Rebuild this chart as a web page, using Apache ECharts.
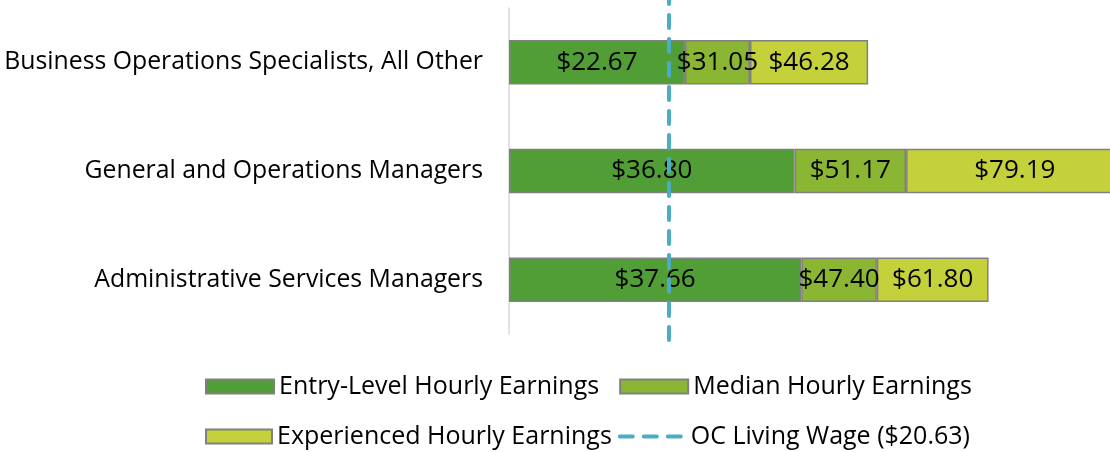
<!DOCTYPE html>
<html>
<head>
<meta charset="utf-8">
<script src="https://cdn.jsdelivr.net/npm/echarts@6/dist/echarts.min.js"></script>
<style>
html, body { margin: 0; padding: 0; background: #fff; }
#chart { width: 1110px; height: 452px; }
</style>
</head>
<body>
<div id="chart"></div>
<script>
var jobs = ['Business Operations Specialists, All Other', 'General and Operations Managers', 'Administrative Services Managers'];
var entryWage = [22.67, 36.80, 37.66];
var medianWage = [31.05, 51.17, 47.40];
var expWage = [46.28, 79.19, 61.80];
var livingWage = 20.63;

var fontName = 'Open Sans';

// bars are stacked, so each piece is the step up from the one before
var medianStep = medianWage.map(function (v, i) { return +(v - entryWage[i]).toFixed(2); });
var expStep = expWage.map(function (v, i) { return +(v - medianWage[i]).toFixed(2); });

function money(arr) {
	return function (p) { return '$' + arr[p.dataIndex].toFixed(2); };
}

var barLabel = function (arr) {
	return {
		show: true,
		position: 'inside',
		color: '#000',
		fontSize: 26,
		fontFamily: fontName,
		formatter: money(arr)
	};
};

var dashLine = { color: '#4bacc6', width: 4, type: [13, 11], cap: 'round' };
var legendText = { fontSize: 25, fontFamily: fontName, color: '#000' };

var option = {
	animation: false,
	backgroundColor: '#fff',
	grid: [
		{ left: 509, top: 8, bottom: 118, width: 776, outerBoundsMode: 'none' },
		// second grid only for the living wage line, it runs a bit taller
		{ left: 509, top: 0, bottom: 112, width: 776, outerBoundsMode: 'none' }
	],
	legend: [
		{
			left: 205, top: 374, padding: 0,
			icon: 'rect',
			itemWidth: 68, itemHeight: 14, itemGap: 20,
			textStyle: legendText,
			data: ['Entry-Level Hourly Earnings', 'Median Hourly Earnings']
		},
		{
			left: 205, top: 424, padding: 0,
			itemWidth: 66, itemHeight: 14, itemGap: 6,
			textStyle: legendText,
			data: [
				{ name: 'Experienced Hourly Earnings', icon: 'rect' },
				{ name: 'OC Living Wage ($20.63)', itemStyle: { opacity: 0 }, lineStyle: dashLine }
			]
		}
	],
	xAxis: [
		{ type: 'value', min: 0, max: 100, show: false, gridIndex: 0 },
		{ type: 'value', min: 0, max: 100, show: false, gridIndex: 1 }
	],
	yAxis: [
		{
			type: 'category',
			gridIndex: 0,
			data: jobs,
			inverse: true,
			axisLine: { lineStyle: { color: '#d9d9d9', width: 1.5 } },
			axisTick: { show: false },
			axisLabel: { fontSize: 24.8, fontFamily: fontName, color: '#000', margin: 26 }
		},
		{ type: 'category', gridIndex: 1, data: jobs, show: false }
	],
	series: [
		{
			name: 'Entry-Level Hourly Earnings', type: 'bar', stack: 'w', barWidth: '41%',
			itemStyle: { color: '#519e37', borderColor: '#808080', borderWidth: 1.5 },
			label: barLabel(entryWage),
			data: entryWage
		},
		{
			name: 'Median Hourly Earnings', type: 'bar', stack: 'w',
			itemStyle: { color: '#8ab633', borderColor: '#808080', borderWidth: 1.5 },
			label: barLabel(medianWage),
			data: medianStep
		},
		{
			name: 'Experienced Hourly Earnings', type: 'bar', stack: 'w',
			itemStyle: { color: '#c4d13b', borderColor: '#808080', borderWidth: 1.5 },
			label: barLabel(expWage),
			data: expStep
		},
		{
			name: 'OC Living Wage ($20.63)', type: 'line', symbol: 'none',
			xAxisIndex: 1, yAxisIndex: 1,
			lineStyle: dashLine,
			itemStyle: { color: '#4bacc6' },
			data: [],
			markLine: {
				silent: true,
				symbol: 'none',
				label: { show: false },
				lineStyle: dashLine,
				data: [{ xAxis: livingWage }]
			}
		}
	]
};

var chart = echarts.init(document.getElementById('chart'));
chart.setOption(option);
</script>
</body>
</html>
